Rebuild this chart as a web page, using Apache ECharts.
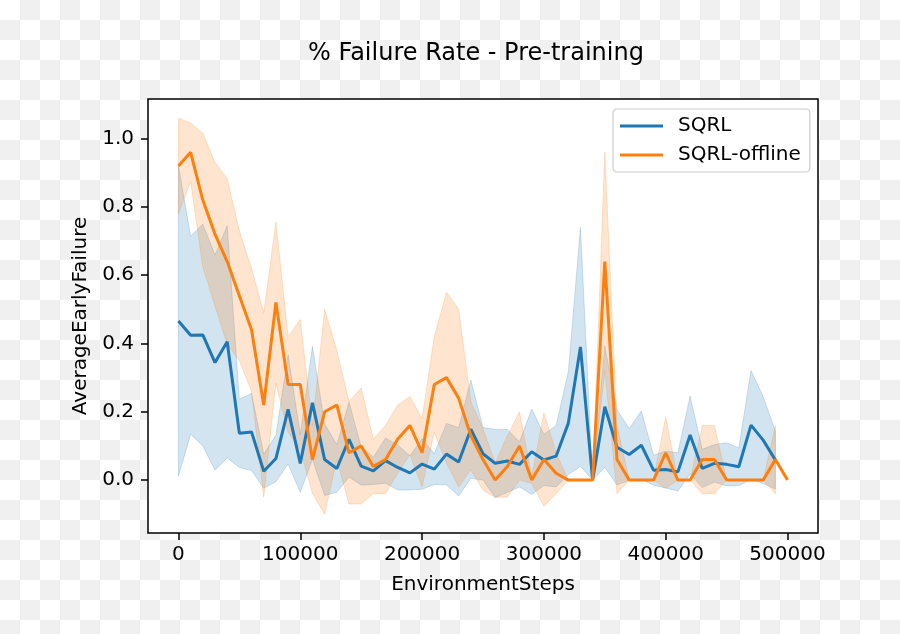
<!DOCTYPE html>
<html><head><meta charset="utf-8">
<script src="https://cdn.jsdelivr.net/npm/echarts@6/dist/echarts.min.js"></script>
<style>
html,body{margin:0;padding:0;}
body{width:900px;height:634px;background:repeating-conic-gradient(#f0f0f0 0% 25%, #ffffff 0% 50%) 0 0/40px 40px;}
#chart{width:900px;height:634px;}
</style></head><body><div id="chart"></div>
<script>
// ---- data ----
const steps = [0,10000,20000,30000,40000,50000,60000,70000,80000,90000,
  100000,110000,120000,130000,140000,150000,160000,170000,180000,190000,
  200000,210000,220000,230000,240000,250000,260000,270000,280000,290000,
  300000,310000,320000,330000,340000,350000,360000,370000,380000,390000,
  400000,410000,420000,430000,440000,450000,460000,470000,480000,490000,
  500000];

const sqrlMean = [0.466,0.424,0.425,0.344,0.405,0.137,0.141,0.026,0.063,0.207,
  0.049,0.226,0.060,0.034,0.119,0.041,0.027,0.057,0.037,0.021,
  0.047,0.032,0.076,0.053,0.149,0.077,0.049,0.056,0.046,0.083,
  0.059,0.070,0.166,0.390,0.000,0.215,0.096,0.075,0.102,0.029,
  0.031,0.024,0.132,0.034,0.049,0.046,0.039,0.161,0.117,0.059];
const sqrlSpread = [0.455,0.29,0.325,0.315,0.34,0.10,0.113,0.05,0.068,0.16,
  0.085,0.165,0.105,0.07,0.11,0.056,0.04,0.066,0.066,0.05,
  0.074,0.045,0.09,0.10,0.144,0.077,0.10,0.092,0.066,0.125,
  0.075,0.09,0.15,0.35,0.0,0.178,0.11,0.076,0.10,0.044,
  0.054,0.056,0.114,0.056,0.055,0.063,0.055,0.16,0.127,0.085];

const offlineMean = [0.92,0.96,0.82,0.72,0.64,0.54,0.44,0.22,0.52,0.28,
  0.28,0.06,0.20,0.22,0.08,0.10,0.04,0.06,0.12,0.16,
  0.08,0.28,0.30,0.24,0.13,0.06,0.00,0.04,0.10,0.00,
  0.06,0.02,0.00,0.00,0.00,0.64,0.06,0.00,0.00,0.00,
  0.08,0.00,0.00,0.06,0.06,0.00,0.00,0.00,0.00,0.06,
  0.00];
const offlineSpread = [0.14,0.086,0.196,0.21,0.243,0.19,0.18,0.27,0.236,0.14,
  0.19,0.10,0.30,0.16,0.15,0.17,0.08,0.10,0.10,0.085,
  0.10,0.14,0.25,0.26,0.10,0.09,0.05,0.09,0.10,0.01,
  0.137,0.06,0,0,0,0.32,0.10,0,0,0,
  0.105,0,0,0.10,0.10,0,0,0,0,0.10];

const xTicks = [0,100000,200000,300000,400000,500000];
const yTicks = [0.0,0.2,0.4,0.6,0.8,1.0];
const seriesNames = ['SQRL','SQRL-offline'];

// ---- build ----
const FONT = 'DejaVu Sans';
const BLUE = '#1f77b4', ORANGE = '#ff7f0e';
const BLUE_A = 'rgba(31,119,180,0.2)', ORANGE_A = 'rgba(255,127,14,0.2)';
function pts(vals){ return vals.map((v,i)=>[steps[i], v]); }
function bandSeries(mean, spread, col){
  const data = spread.map((s,i)=>[steps[i], mean[i]-s, mean[i]+s]);
  return {type:'custom', silent:true, z:1, clip:true, data:data, encode:{x:0, y:[1,2]},
    renderItem:function(params, api){
      if (params.dataIndex !== 0) return null;
      const top = [], bot = [];
      for (let i = 0; i < data.length; i++) {
        top.push(api.coord([data[i][0], data[i][2]]));
        bot.push(api.coord([data[i][0], data[i][1]]));
      }
      return {type:'polygon', shape:{points: top.concat(bot.reverse())},
        style:{fill:col, stroke:col, lineWidth:1}};
    }};
}

const chart = echarts.init(document.getElementById('chart'), null, {renderer:'canvas'});
chart.setOption({
  animation:false,
  backgroundColor:'transparent',
  title:{text:'% Failure Rate - Pre-training', left:471, top:37, textAlign:'center',
    textStyle:{fontFamily:FONT, fontSize:24, fontWeight:'normal', color:'#000'}},
  grid:{left:148, right:82, top:99, bottom:101, show:true, backgroundColor:'#ffffff',
    borderColor:'#000', borderWidth:1.5, containLabel:false, outerBoundsMode:'none'},
  legend:{data:seriesNames, orient:'vertical', left:613, top:109, padding:[7,9,7,7],
    itemGap:9, itemWidth:43, itemHeight:3, icon:'rect',
    backgroundColor:'rgba(255,255,255,0.8)', borderColor:'#cccccc', borderWidth:1.2, borderRadius:4,
    textStyle:{fontFamily:FONT, fontSize:20, color:'#000', padding:[0,0,0,10]}},
  xAxis:{type:'value', min:-25000, max:525000,
    name:'EnvironmentSteps', nameLocation:'middle', nameGap:42,
    nameTextStyle:{fontFamily:FONT, fontSize:20, color:'#000'},
    axisLine:{show:false, onZero:false}, splitLine:{show:false},
    axisTick:{show:true, length:7, lineStyle:{color:'#000', width:1.5}, customValues:xTicks},
    axisLabel:{customValues:xTicks, formatter:v=>String(v), margin:12,
      fontFamily:FONT, fontSize:20, color:'#000'}},
  yAxis:{type:'value', min:-0.155, max:1.116,
    name:'AverageEarlyFailure', nameLocation:'middle', nameGap:50,
    nameTextStyle:{fontFamily:FONT, fontSize:20, color:'#000'},
    axisLine:{show:false, onZero:false}, splitLine:{show:false},
    axisTick:{show:true, length:7, lineStyle:{color:'#000', width:1.5}, customValues:yTicks},
    axisLabel:{customValues:yTicks, formatter:v=>v.toFixed(1), margin:14,
      fontFamily:FONT, fontSize:20, color:'#000'}},
  series:[
    bandSeries(sqrlMean, sqrlSpread, BLUE_A),
    bandSeries(offlineMean, offlineSpread, ORANGE_A),
    {name:seriesNames[0], type:'line', data:pts(sqrlMean), symbol:'none', showSymbol:false, z:3,
      lineStyle:{color:BLUE, width:3}, itemStyle:{color:BLUE}},
    {name:seriesNames[1], type:'line', data:pts(offlineMean), symbol:'none', showSymbol:false, z:3,
      lineStyle:{color:ORANGE, width:3}, itemStyle:{color:ORANGE}}
  ]
});
</script></body></html>
